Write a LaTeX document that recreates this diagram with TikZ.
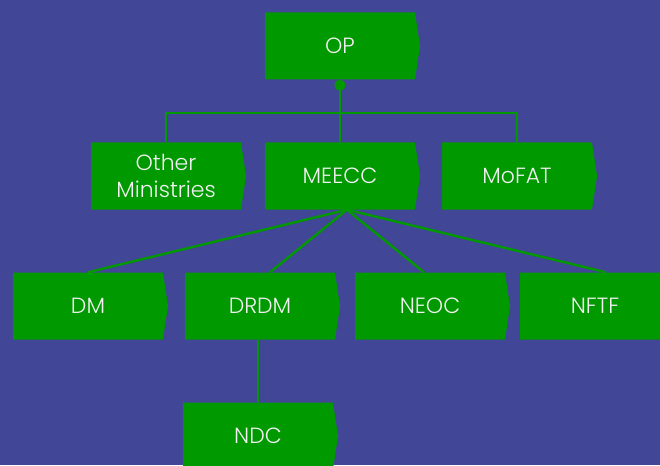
\documentclass[tikz,border=0pt]{standalone}
\usepackage{fontspec}
\setmainfont{Poppins}[UprightFont=* Light]
\usetikzlibrary{shapes.symbols,arrows.meta}
\definecolor{bgblue}{HTML}{414696}
\definecolor{boxgreen}{HTML}{009900}
\definecolor{boxtext}{HTML}{F2F2F2}
\tikzset{
  unit/.style={signal, signal to=east, signal pointer angle=163, fill=boxgreen,
    text=boxtext, minimum width=155pt, minimum height=67pt, inner sep=0pt,
    align=center, font=\fontsize{22}{27}\selectfont},
  link/.style={draw=boxgreen, line width=2.4pt}
}
\begin{document}
\begin{tikzpicture}[x=1pt,y=-1pt]
% Background of the chart
\clip (0,0) rectangle (660,465);
\fill[bgblue] (0,0) rectangle (660,465);

% Units of the structure
\node[unit] (OP) at (340,46) {OP};
\node[unit] (Other) at (166,176) {Other\\Ministries};
\node[unit] (MEECC) at (340,176) {MEECC};
\node[unit] (MoFAT) at (517,176) {MoFAT};
\node[unit] (DM) at (88,306) {DM};
\node[unit] (DRDM) at (260,306) {DRDM};
\node[unit] (NEOC) at (430,306) {NEOC};
\node[unit] (NFTF) at (595,306) {NFTF};
\node[unit] (NDC) at (258,436) {NDC};

% Links between the units
\draw[link, {Circle[length=11pt, width=11pt]}-] (OP.south) -- (MEECC.north);
\draw[link] (Other.north) -- ++(0,-29) -| (MoFAT.north);
\foreach \dst/\dx in {DM/0, DRDM/10, NEOC/-6, NFTF/11}
  \draw[link] ([xshift=7pt]MEECC.south) -- ([xshift=\dx pt]\dst.north);
\draw[link] (DRDM.south -| NDC.north) -- (NDC.north);
\end{tikzpicture}
\end{document}
